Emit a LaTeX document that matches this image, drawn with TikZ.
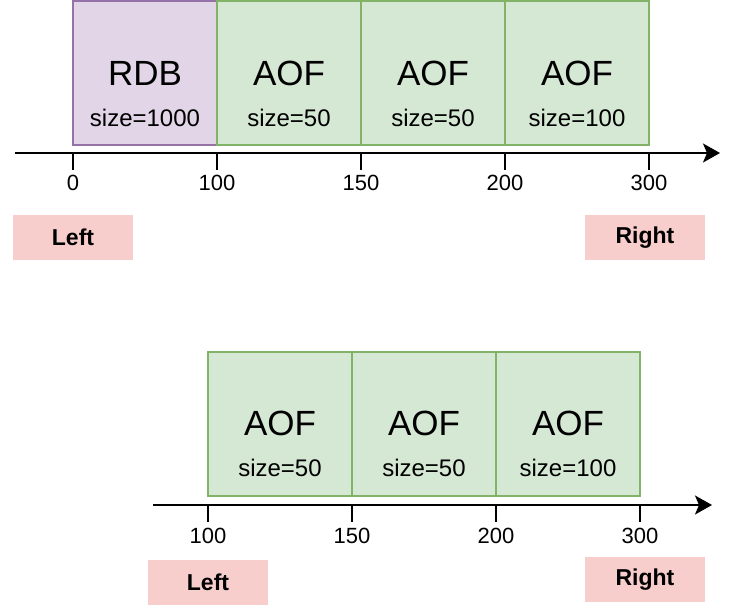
\documentclass[tikz,border=0pt]{standalone}
\usepackage{fontspec}
\setmainfont{Liberation Sans}
\usepackage{tikz}
\usetikzlibrary{positioning, arrows.meta}
\definecolor{rdbfill}{HTML}{E1D5E7}
\definecolor{rdbline}{HTML}{9673A6}
\definecolor{aoffill}{HTML}{D5E8D4}
\definecolor{aofline}{HTML}{82B366}
\definecolor{sidefill}{HTML}{F8CECC}

\begin{document}
\begin{tikzpicture}[
    x = 1pt, y = 1pt,
    > = {Stealth[length = 17pt, width = 19pt, inset = 4pt]},
    box/.style = {
      rectangle, draw, line width = 2pt, outer sep = 0pt,
      inner sep = 0pt, minimum width = 144pt, minimum height = 144pt
    },
    rdb/.style = {box, draw = rdbline, fill = rdbfill},
    aof/.style = {box, draw = aofline, fill = aoffill},
    title/.style = {font = \fontsize{35}{42}\selectfont, inner sep = 0pt},
    sizetext/.style = {font = \fontsize{24}{28}\selectfont, inner sep = 0pt},
    ticklabel/.style = {font = \fontsize{22}{26}\selectfont, inner sep = 0pt},
    side/.style = {
      rectangle, fill = sidefill, minimum width = 120pt, minimum height = 45pt,
      font = \fontsize{23}{28}\selectfont\bfseries
    },
    axis/.style = {->, line width = 2pt},
    tickline/.style = {line width = 2pt},
    ]
\useasboundingbox (0,0) rectangle (738,606);

% upper timeline
\node  [rdb]  (rdb)  at  (145,533)  {};
\node  [aof]  (aof1)  [right = 0pt of rdb]  {};
\node  [aof]  (aof2)  [right = 0pt of aof1]  {};
\node  [aof]  (aof3)  [right = 0pt of aof2]  {};

\node  [title]  (rdb_t)  at  (rdb.center)  {RDB};
\node  [title]  (aof1_t)  at  (aof1.center)  {AOF};
\node  [title]  (aof2_t)  at  (aof2.center)  {AOF};
\node  [title]  (aof3_t)  at  (aof3.center)  {AOF};
\node  [sizetext]  (rdb_s)  at  ([yshift = -45pt]rdb.center)  {size=1000};
\node  [sizetext]  (aof1_s)  at  ([yshift = -45pt]aof1.center)  {size=50};
\node  [sizetext]  (aof2_s)  at  ([yshift = -45pt]aof2.center)  {size=50};
\node  [sizetext]  (aof3_s)  at  ([yshift = -45pt]aof3.center)  {size=100};

\coordinate  (ax_start)  at  (15,453);
\coordinate  (ax_end)  at  (720,453);
\draw  [axis]  (ax_start)  --  (ax_end);

\coordinate  (t0)  at  (rdb.west |- ax_start);
\coordinate  (t1)  at  (aof1.west |- ax_start);
\coordinate  (t2)  at  (aof2.west |- ax_start);
\coordinate  (t3)  at  (aof3.west |- ax_start);
\coordinate  (t4)  at  (aof3.east |- ax_start);
\foreach \t/\v in {t0/0, t1/100, t2/150, t3/200, t4/300} {
  \draw  [tickline]  (\t)  --  ++(0,-17);
  \node  [ticklabel]  (\t_l)  at  ([yshift = -30pt]\t)  {\v};
}

\node  [side]  (left)  at  (73,368.5)  {Left};
\node  [side]  (right)  at  (645,368.5)  {Right};

% lower timeline
\node  [aof]  (baof1)  at  (280,182.5)  {};
\node  [aof]  (baof2)  [right = 0pt of baof1]  {};
\node  [aof]  (baof3)  [right = 0pt of baof2]  {};

\node  [title]  (baof1_t)  at  (baof1.center)  {AOF};
\node  [title]  (baof2_t)  at  (baof2.center)  {AOF};
\node  [title]  (baof3_t)  at  (baof3.center)  {AOF};
\node  [sizetext]  (baof1_s)  at  ([yshift = -44pt]baof1.center)  {size=50};
\node  [sizetext]  (baof2_s)  at  ([yshift = -44pt]baof2.center)  {size=50};
\node  [sizetext]  (baof3_s)  at  ([yshift = -44pt]baof3.center)  {size=100};

\coordinate  (bax_start)  at  (153,101);
\coordinate  (bax_end)  at  (712,101);
\draw  [axis]  (bax_start)  --  (bax_end);

\coordinate  (b1)  at  (baof1.west |- bax_start);
\coordinate  (b2)  at  (baof2.west |- bax_start);
\coordinate  (b3)  at  (baof3.west |- bax_start);
\coordinate  (b4)  at  (baof3.east |- bax_start);
\foreach \t/\v in {b1/100, b2/150, b3/200, b4/300} {
  \draw  [tickline]  (\t)  --  ++(0,-17);
  \node  [ticklabel]  (\t_l)  at  ([yshift = -31pt]\t)  {\v};
}

\node  [side]  (bleft)  at  (208,23.5)  {Left};
\node  [side]  (bright)  at  (645,26.5)  {Right};
\end{tikzpicture}
\end{document}
